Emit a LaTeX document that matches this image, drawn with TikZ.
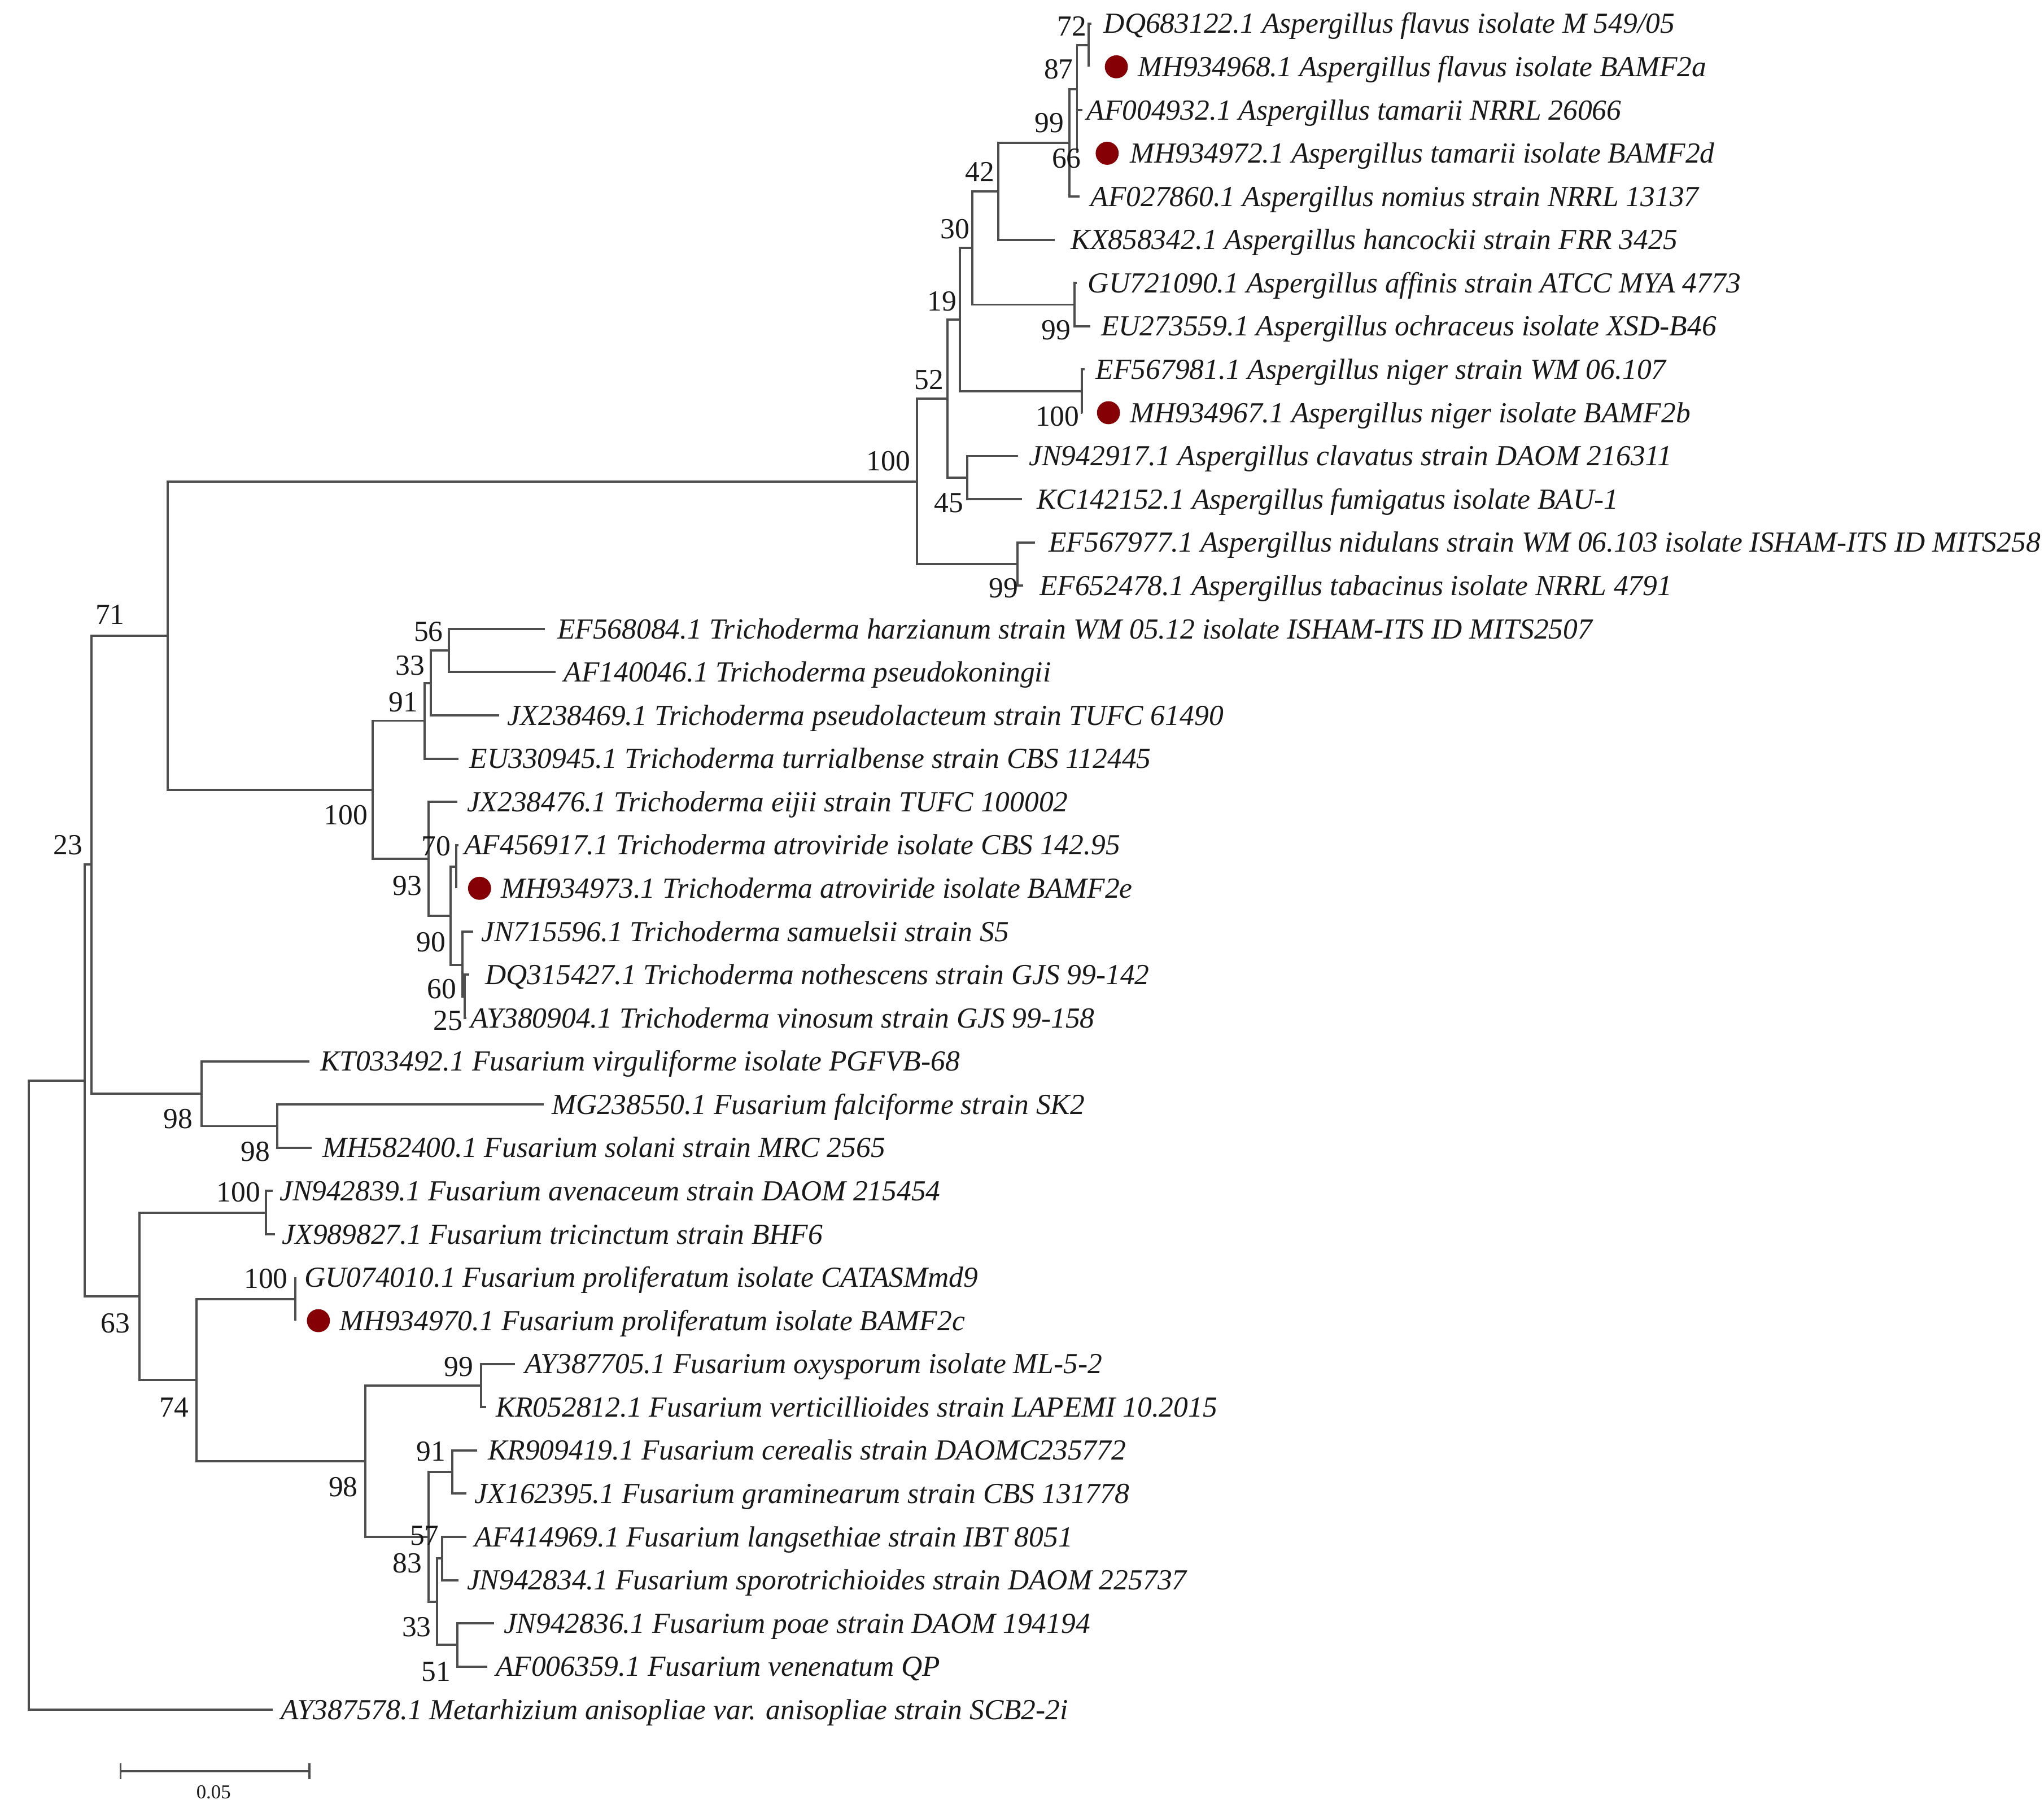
\documentclass[tikz,border=0pt]{standalone}
\usepackage{fontspec}
\setmainfont{Liberation Serif}
\definecolor{dotred}{RGB}{132,0,4}
\definecolor{branch}{RGB}{78,78,78}
\definecolor{txt}{RGB}{25,25,25}
\begin{document}
\begin{tikzpicture}[x=0.5pt,y=-0.5pt,
  br/.style={draw=branch,line width=0.85pt},
  tip/.style={anchor=base west,inner sep=0pt,font=\fontsize{11.1}{13}\selectfont\itshape,text=txt,yshift=-3.7pt},
  bs/.style={inner sep=0pt,font=\fontsize{11.1}{13}\selectfont,text=txt},
  dot/.style={circle,fill=dotred,minimum size=8.8pt,inner sep=0pt}]
\useasboundingbox (0,0) rectangle (1560,1373.8);
\clip (0,0) rectangle (1560,1373.8);
% ---------- tip ends ----------
\coordinate (e1) at (833,18);   \coordinate (e2) at (831,51);
\coordinate (e3) at (826,84);   \coordinate (e4) at (822,117);
\coordinate (e5) at (824,150);  \coordinate (e6) at (805,183);
\coordinate (e7) at (822,216);  \coordinate (e8) at (832,249);
\coordinate (e9) at (828,282);  \coordinate (e10) at (826,315);
\coordinate (e11) at (777,348); \coordinate (e12) at (780,381);
\coordinate (e13) at (790,414); \coordinate (e14) at (781,447);
\coordinate (e15) at (416,480); \coordinate (e16) at (424,513);
\coordinate (e17) at (381,546); \coordinate (e18) at (350,579);
\coordinate (e19) at (349,612); \coordinate (e20) at (350,645);
\coordinate (e21) at (348,678); \coordinate (e22) at (361,711);
\coordinate (e23) at (358,744); \coordinate (e24) at (356,777);
\coordinate (e25) at (236,810); \coordinate (e26) at (415,843);
\coordinate (e27) at (238,876); \coordinate (e28) at (208,909);
\coordinate (e29) at (210,942); \coordinate (e30) at (225.4,975);
\coordinate (e31) at (225.4,1008); \coordinate (e32) at (393,1041);
\coordinate (e33) at (371,1074); \coordinate (e34) at (364,1107);
\coordinate (e35) at (356,1140); \coordinate (e36) at (356,1173);
\coordinate (e37) at (350,1206); \coordinate (e38) at (377,1239);
\coordinate (e39) at (372,1272); \coordinate (e40) at (208,1305);
% ---------- internal nodes ----------
\coordinate (a72) at (831,34.5);
\coordinate (a87) at (822,68);
\coordinate (a99) at (816,109);
\coordinate (a42) at (762,146);
\coordinate (a99b) at (820,232.5);
\coordinate (a30) at (742,189.25);
\coordinate (a100n) at (825.7,298.5);
\coordinate (a19) at (732.6,243.9);
\coordinate (a45) at (738,364.5);
\coordinate (a52) at (723,304.2);
\coordinate (a99c) at (776.6,430.5);
\coordinate (a100) at (700,367.4);
\coordinate (t56) at (342.6,496.5);
\coordinate (t33) at (328.9,521.25);
\coordinate (t91) at (324,550.1);
\coordinate (t70) at (348,661.5);
\coordinate (tB) at (354.5,760.5);
\coordinate (tA) at (353,736.5);
\coordinate (t90) at (344,699);
\coordinate (t93) at (327,655.5);
\coordinate (t100) at (284.4,602.8);
\coordinate (n71) at (127.8,485.1);
\coordinate (f98i) at (211.6,859.5);
\coordinate (f98) at (154,834.75);
\coordinate (nB) at (70,659.9);
\coordinate (f100a) at (203,925.5);
\coordinate (f100p) at (225.4,991.5);
\coordinate (o99) at (367,1057.5);
\coordinate (o91) at (345,1123.5);
\coordinate (oZ) at (337.6,1189.5);
\coordinate (oW) at (349,1255.5);
\coordinate (oY) at (333.6,1222.5);
\coordinate (oX) at (327,1173);
\coordinate (o98) at (279,1115.25);
\coordinate (f74) at (150,1053.4);
\coordinate (f63) at (106.6,989.4);
\coordinate (n23) at (64.5,824.7);
\coordinate (root) at (22,1064.8);
% ---------- branches ----------
\draw[br] (a72) |- (e1);  \draw[br] (a72) |- (e2);
\draw[br] (a87) |- (a72); \draw[br] (a87) |- (e3); \draw[br] (a87) |- (e4);
\draw[br] (a99) |- (a87); \draw[br] (a99) |- (e5);
\draw[br] (a42) |- (a99); \draw[br] (a42) |- (e6);
\draw[br] (a99b) |- (e7); \draw[br] (a99b) |- (e8);
\draw[br] (a30) |- (a42); \draw[br] (a30) |- (a99b);
\draw[br] (a100n) |- (e9); \draw[br] (a100n) |- (e10);
\draw[br] (a19) |- (a30); \draw[br] (a19) |- (a100n);
\draw[br] (a45) |- (e11); \draw[br] (a45) |- (e12);
\draw[br] (a52) |- (a19); \draw[br] (a52) |- (a45);
\draw[br] (a99c) |- (e13); \draw[br] (a99c) |- (e14);
\draw[br] (a100) |- (a52); \draw[br] (a100) |- (a99c);
\draw[br] (t56) |- (e15); \draw[br] (t56) |- (e16);
\draw[br] (t33) |- (t56); \draw[br] (t33) |- (e17);
\draw[br] (t91) |- (t33); \draw[br] (t91) |- (e18);
\draw[br] (t70) |- (e20); \draw[br] (t70) |- (e21);
\draw[br] (tB) |- (e23); \draw[br] (tB) |- (e24);
\draw[br] (tA) |- (e22); \draw[br] (tA) |- (tB);
\draw[br] (t90) |- (t70); \draw[br] (t90) |- (tA);
\draw[br] (t93) |- (e19); \draw[br] (t93) |- (t90);
\draw[br] (t100) |- (t91); \draw[br] (t100) |- (t93);
\draw[br] (n71) |- (a100); \draw[br] (n71) |- (t100);
\draw[br] (f98i) |- (e26); \draw[br] (f98i) |- (e27);
\draw[br] (f98) |- (e25); \draw[br] (f98) |- (f98i);
\draw[br] (nB) |- (n71); \draw[br] (nB) |- (f98);
\draw[br] (f100a) |- (e28); \draw[br] (f100a) |- (e29);
\draw[br] (f100p) |- (e30); \draw[br] (f100p) |- (e31);
\draw[br] (o99) |- (e32); \draw[br] (o99) |- (e33);
\draw[br] (o91) |- (e34); \draw[br] (o91) |- (e35);
\draw[br] (oZ) |- (e36); \draw[br] (oZ) |- (e37);
\draw[br] (oW) |- (e38); \draw[br] (oW) |- (e39);
\draw[br] (oY) |- (oZ); \draw[br] (oY) |- (oW);
\draw[br] (oX) |- (o91); \draw[br] (oX) |- (oY);
\draw[br] (o98) |- (o99); \draw[br] (o98) |- (oX);
\draw[br] (f74) |- (f100p); \draw[br] (f74) |- (o98);
\draw[br] (f63) |- (f100a); \draw[br] (f63) |- (f74);
\draw[br] (n23) |- (nB); \draw[br] (n23) |- (f63);
\draw[br] (root) |- (n23); \draw[br] (root) |- (e40);
% ---------- dots ----------
\node[dot] (d2) at (852,51) {};
\node[dot] (d4) at (845,117) {};
\node[dot] (d10) at (846,315) {};
\node[dot] (d21) at (366,678) {};
\node[dot] (d31) at (243,1008) {};
% ---------- taxon labels ----------
\node[tip] (l1) at (842,18) {DQ683122.1 Aspergillus flavus isolate M 549/05};
\node[tip] (l2) at (868,51) {MH934968.1 Aspergillus flavus isolate BAMF2a};
\node[tip] (l3) at (829,84) {AF004932.1 Aspergillus tamarii NRRL 26066};
\node[tip] (l4) at (862,117) {MH934972.1 Aspergillus tamarii isolate BAMF2d};
\node[tip] (l5) at (832,150) {AF027860.1 Aspergillus nomius strain NRRL 13137};
\node[tip] (l6) at (817,183) {KX858342.1 Aspergillus hancockii strain FRR 3425};
\node[tip] (l7) at (830,216) {GU721090.1 Aspergillus affinis strain ATCC MYA 4773};
\node[tip] (l8) at (840,249) {EU273559.1 Aspergillus ochraceus isolate XSD-B46};
\node[tip] (l9) at (836,282) {EF567981.1 Aspergillus niger strain WM 06.107};
\node[tip] (l10) at (862,315) {MH934967.1 Aspergillus niger isolate BAMF2b};
\node[tip] (l11) at (785,348) {JN942917.1 Aspergillus clavatus strain DAOM 216311};
\node[tip] (l12) at (791,381) {KC142152.1 Aspergillus fumigatus isolate BAU-1};
\node[tip] (l13) at (800,414) {EF567977.1 Aspergillus nidulans strain WM 06.103 isolate ISHAM-ITS ID MITS258};
\node[tip] (l14) at (793,447) {EF652478.1 Aspergillus tabacinus isolate NRRL 4791};
\node[tip] (l15) at (425,480) {EF568084.1 Trichoderma harzianum strain WM 05.12 isolate ISHAM-ITS ID MITS2507};
\node[tip] (l16) at (430,513) {AF140046.1 Trichoderma pseudokoningii};
\node[tip] (l17) at (387,546) {JX238469.1 Trichoderma pseudolacteum strain TUFC 61490};
\node[tip] (l18) at (358,579) {EU330945.1 Trichoderma turrialbense strain CBS 112445};
\node[tip] (l19) at (356,612) {JX238476.1 Trichoderma eijii strain TUFC 100002};
\node[tip] (l20) at (354,645) {AF456917.1 Trichoderma atroviride isolate CBS 142.95};
\node[tip] (l21) at (382,678) {MH934973.1 Trichoderma atroviride isolate BAMF2e};
\node[tip] (l22) at (367,711) {JN715596.1 Trichoderma samuelsii strain S5};
\node[tip] (l23) at (370,744) {DQ315427.1 Trichoderma nothescens strain GJS 99-142};
\node[tip] (l24) at (359,777) {AY380904.1 Trichoderma vinosum strain GJS 99-158};
\node[tip] (l25) at (244,810) {KT033492.1 Fusarium virguliforme isolate PGFVB-68};
\node[tip] (l26) at (421,843) {MG238550.1 Fusarium falciforme strain SK2};
\node[tip] (l27) at (246,876) {MH582400.1 Fusarium solani strain MRC 2565};
\node[tip] (l28) at (213,909) {JN942839.1 Fusarium avenaceum strain DAOM 215454};
\node[tip] (l29) at (215,942) {JX989827.1 Fusarium tricinctum strain BHF6};
\node[tip] (l30) at (232,975) {GU074010.1 Fusarium proliferatum isolate CATASMmd9};
\node[tip] (l31) at (259,1008) {MH934970.1 Fusarium proliferatum isolate BAMF2c};
\node[tip] (l32) at (400,1041) {AY387705.1 Fusarium oxysporum isolate ML-5-2};
\node[tip] (l33) at (378,1074) {KR052812.1 Fusarium verticillioides strain LAPEMI 10.2015};
\node[tip] (l34) at (372,1107) {KR909419.1 Fusarium cerealis strain DAOMC235772};
\node[tip] (l35) at (362,1140) {JX162395.1 Fusarium graminearum strain CBS 131778};
\node[tip] (l36) at (362,1173) {AF414969.1 Fusarium langsethiae strain IBT 8051};
\node[tip] (l37) at (356,1206) {JN942834.1 Fusarium sporotrichioides strain DAOM 225737};
\node[tip] (l38) at (384,1239) {JN942836.1 Fusarium poae strain DAOM 194194};
\node[tip] (l39) at (378,1272) {AF006359.1 Fusarium venenatum QP};
\node[tip] (l40) at (214,1305) {AY387578.1 Metarhizium anisopliae var. anisopliae strain SCB2-2i};
% ---------- bootstrap values ----------
\node[bs] (b72) at (818,20) {72};
\node[bs] (b87) at (808,53) {87};
\node[bs] (b99a) at (801,94) {99};
\node[bs] (b66) at (814,121) {66};
\node[bs] (b42) at (748,131) {42};
\node[bs] (b30) at (729,175) {30};
\node[bs] (b19) at (719,230) {19};
\node[bs] (b99b) at (806,252) {99};
\node[bs] (b52) at (709,290) {52};
\node[bs] (b100n) at (807,318) {100};
\node[bs] (b100a) at (678,352) {100};
\node[bs] (b45) at (724,384) {45};
\node[bs] (b99c) at (766,449) {99};
\node[bs] (b71) at (84,469) {71};
\node[bs] (b56) at (327,482) {56};
\node[bs] (b33t) at (313,508) {33};
\node[bs] (b91t) at (308,536) {91};
\node[bs] (b100t) at (264,622) {100};
\node[bs] (b23) at (52,645) {23};
\node[bs] (b70) at (333,646) {70};
\node[bs] (b93) at (311,676) {93};
\node[bs] (b90) at (329,719) {90};
\node[bs] (b60) at (337,755) {60};
\node[bs] (b25) at (342,779) {25};
\node[bs] (b98f) at (136,854) {98};
\node[bs] (b98i) at (195,879) {98};
\node[bs] (b100f) at (182,910) {100};
\node[bs] (b100p) at (203,976) {100};
\node[bs] (b63) at (88,1010) {63};
\node[bs] (b99o) at (350,1043) {99};
\node[bs] (b74) at (133,1074) {74};
\node[bs] (b91o) at (329,1108) {91};
\node[bs] (b98o) at (262,1135) {98};
\node[bs] (b57) at (324,1172) {57};
\node[bs] (b83) at (311,1193) {83};
\node[bs] (b33o) at (318,1242) {33};
\node[bs] (b51) at (333,1276) {51};
% ---------- scale bar ----------
\coordinate (s1) at (92,1352);
\coordinate (s2) at (236,1352);
\draw[br] (s1) -- (s2);
\draw[br] ([yshift=3pt]s1) -- ([yshift=-3pt]s1);
\draw[br] ([yshift=3pt]s2) -- ([yshift=-3pt]s2);
\node[inner sep=0pt,font=\fontsize{7.5}{9}\selectfont,text=txt] (sl) at (163,1368) {0.05};
\end{tikzpicture}
\end{document}
